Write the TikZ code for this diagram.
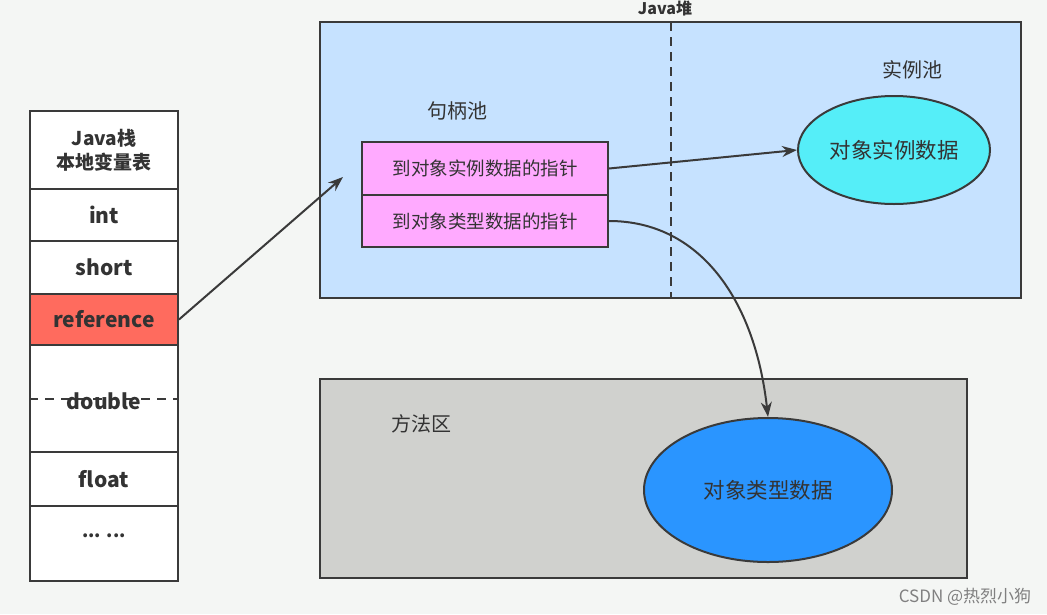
\documentclass[tikz,border=0pt]{standalone}
\usepackage{fontspec}
\setmainfont{Noto Sans CJK SC}
\usetikzlibrary{shapes.geometric,arrows.meta}
\definecolor{bgc}{HTML}{F4F6F4}
\definecolor{linec}{HTML}{3A3A3A}
\definecolor{heapc}{HTML}{C6E2FF}
\definecolor{pinkc}{HTML}{FFAAFF}
\definecolor{cyanc}{HTML}{55EEF8}
\definecolor{bluec}{HTML}{2A95FF}
\definecolor{methc}{HTML}{D0D1CE}
\definecolor{refc}{HTML}{FF6B5E}
\definecolor{txtc}{HTML}{333333}
\tikzset{
  cell/.style={draw=linec, line width=2pt, fill=white, minimum width=148pt, inner sep=0pt, text=txtc, font=\fontsize{21}{23}\selectfont\bfseries},
  area/.style={draw=linec, line width=2.5pt, inner sep=0pt},
  ptr/.style={draw=linec, line width=2pt, fill=pinkc, minimum width=246pt, inner sep=0pt, text=txtc, font=\fontsize{18.5}{20}\selectfont},
  blob/.style={ellipse, draw=linec, line width=2pt, inner sep=0pt, text=txtc, font=\fontsize{21.5}{23}\selectfont},
  lbl/.style={text=txtc, inner sep=0pt, font=\fontsize{20}{22}\selectfont},
  conn/.style={draw=linec, line width=2pt, -{Stealth[length=15pt,width=11pt]}},
}
\begin{document}
\begin{tikzpicture}[x=1pt,y=-1pt]
\useasboundingbox (0,0) rectangle (1047,614);
\fill[bgc] (0,0) rectangle (1047,614);

% left column
\node[cell, minimum height=78pt, align=center, font=\fontsize{19}{24}\selectfont\bfseries] (hdr) at (104,150) {Java栈\\本地变量表};
\node[cell, minimum height=52pt] (int) at (104,215) {int};
\node[cell, minimum height=53pt] (short) at (104,267.5) {short};
\node[cell, minimum height=51pt, fill=refc] (ref) at (104,319.5) {reference};
\node[cell, minimum height=107pt] (dbl) at (104,398.5) {};
\draw[linec, line width=2pt, dashed, dash pattern=on 9pt off 7pt] (dbl.west) -- (dbl.east);
\node[lbl, font=\fontsize{21}{23}\selectfont\bfseries] (dbltxt) at (104,401) {double};
\node[cell, minimum height=54pt] (flt) at (104,479) {float};
\node[cell, minimum height=75pt] (dots) at (104,543.5) {};
\node[lbl, font=\fontsize{18}{20}\selectfont\bfseries] (dotstxt) at (104,536) {... ...};

% Java heap
\node[area, fill=heapc, minimum width=701pt, minimum height=276pt] (heap) at (670.5,160) {};
\draw[linec, line width=2pt, dashed, dash pattern=on 9pt off 6pt] (671,22) -- (671,298);
\node[lbl, font=\fontsize{16}{18}\selectfont\bfseries] (heaplbl) at (665,8) {Java堆};
\node[lbl] (handle) at (457,111) {句柄池};
\node[lbl] (instlbl) at (912,70) {实例池};
\node[ptr, minimum height=53pt] (p1) at (485,168.5) {到对象实例数据的指针};
\node[ptr, minimum height=52pt] (p2) at (485,221) {到对象类型数据的指针};
\node[blob, fill=cyanc, minimum width=192pt, minimum height=108pt] (inst) at (894,150) {对象实例数据};

% method area
\node[area, fill=methc, minimum width=647pt, minimum height=199pt] (meth) at (643.5,478.5) {};
\node[lbl] (methlbl) at (421,424) {方法区};
\node[blob, fill=bluec, minimum width=248pt, minimum height=144pt] (type) at (768,490) {对象类型数据};

% connectors
\coordinate (refend) at (343,177);
\draw[conn] (ref.east) -- (refend);
\draw[conn] (p1.east) -- (inst.west);
\draw[conn] (p2.east) .. controls (700,221) and (755,300) .. (type.north);

% watermark
\node[inner sep=0pt, text=black!50, font=\fontsize{17}{19}\selectfont] (wm) at (965,597) {CSDN @热烈小狗};
\end{tikzpicture}
\end{document}
